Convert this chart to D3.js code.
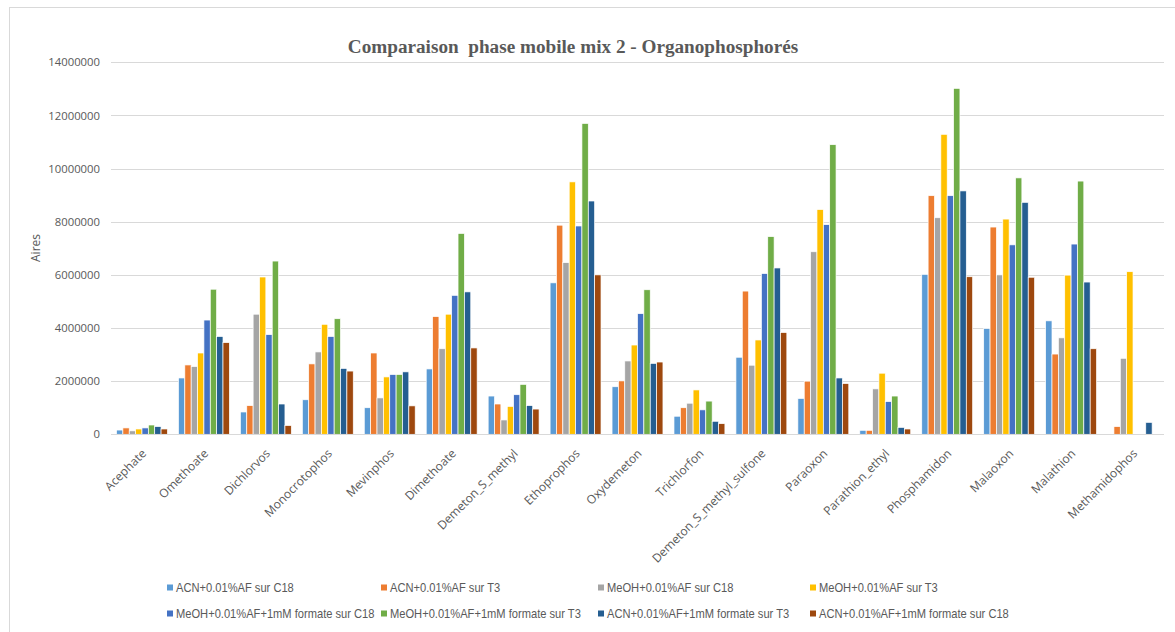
<!DOCTYPE html>
<html>
<head>
<meta charset="utf-8">
<script src="https://cdn.jsdelivr.net/npm/d3@7"></script>
<style>
  html, body { margin: 0; padding: 0; background: #fff; }
  svg { display: block; }
</style>
</head>
<body>
<svg id="chart" width="1175" height="632"></svg>
<script>
const categories = ["Acephate","Omethoate","Dichlorvos","Monocrotophos","Mevinphos","Dimethoate","Demeton_S_methyl","Ethoprophos","Oxydemeton","Trichlorfon","Demeton_S_methyl_sulfone","Paraoxon","Parathion_ethyl","Phosphamidon","Malaoxon","Malathion","Methamidophos"];

const seriesNames = [
  "ACN+0.01%AF sur C18",
  "ACN+0.01%AF sur T3",
  "MeOH+0.01%AF sur C18",
  "MeOH+0.01%AF sur T3",
  "MeOH+0.01%AF+1mM formate sur C18",
  "MeOH+0.01%AF+1mM formate sur T3",
  "ACN+0.01%AF+1mM formate sur T3",
  "ACN+0.01%AF+1mM formate sur C18"
];

const acnC18      = [160000, 2120000, 840000, 1300000, 1000000, 2460000, 1440000, 5700000, 1790000, 680000, 2900000, 1350000, 150000, 6020000, 3980000, 4270000, null];
const acnT3       = [240000, 2610000, 1080000, 2650000, 3060000, 4430000, 1140000, 7870000, 2010000, 1000000, 5390000, 2000000, 150000, 8980000, 7800000, 3020000, 290000];
const meohC18     = [130000, 2550000, 4520000, 3100000, 1370000, 3220000, 540000, 6460000, 2760000, 1170000, 2600000, 6870000, 1710000, 8150000, 6000000, 3630000, 2860000];
const meohT3      = [200000, 3060000, 5920000, 4140000, 2160000, 4520000, 1050000, 9500000, 3360000, 1670000, 3550000, 8460000, 2300000, 11290000, 8100000, 5990000, 6120000];
const meohFmtC18  = [240000, 4300000, 3750000, 3680000, 2250000, 5230000, 1490000, 7840000, 4540000, 920000, 6050000, 7890000, 1230000, 8980000, 7130000, 7160000, null];
const meohFmtT3   = [350000, 5460000, 6520000, 4350000, 2250000, 7560000, 1880000, 11700000, 5440000, 1250000, 7440000, 10900000, 1440000, 13020000, 9650000, 9530000, null];
const acnFmtT3    = [290000, 3680000, 1140000, 2480000, 2350000, 5360000, 1080000, 8780000, 2670000, 490000, 6260000, 2120000, 260000, 9160000, 8730000, 5730000, 450000];
const acnFmtC18   = [200000, 3450000, 330000, 2380000, 1070000, 3250000, 950000, 6000000, 2720000, 400000, 3830000, 1910000, 200000, 5930000, 5910000, 3220000, null];

const seriesValues = [acnC18, acnT3, meohC18, meohT3, meohFmtC18, meohFmtT3, acnFmtT3, acnFmtC18];
const colors = ["#5B9BD5","#ED7D31","#A5A5A5","#FFC000","#4472C4","#70AD47","#255E91","#9E480E"];
const yTicks = [0, 2000000, 4000000, 6000000, 8000000, 10000000, 12000000, 14000000];

const title = "Comparaison  phase mobile mix 2 - Organophosphorés";
const yTitle = "Aires";

const svg = d3.select("#chart");
const plotLeft = 111, plotRight = 1164, plotTop = 62.3, plotBottom = 434.3;

// chart border
svg.append("rect").attr("x", 9.5).attr("y", 7.5).attr("width", 1175).attr("height", 640)
  .attr("fill", "none").attr("stroke", "#D9D9D9").attr("stroke-width", 1);

const x0 = d3.scaleBand().domain(categories).range([plotLeft, plotRight]).paddingInner(0.178).paddingOuter(0.089);
const x1 = d3.scaleBand().domain(d3.range(seriesNames.length)).range([0, x0.bandwidth()]);
const y = d3.scaleLinear().domain([0, 14000000]).range([plotBottom, plotTop]);

// gridlines
svg.append("g").selectAll("line").data(yTicks).join("line")
  .attr("x1", plotLeft).attr("x2", plotRight)
  .attr("y1", d => Math.round(y(d)) + 0.5).attr("y2", d => Math.round(y(d)) + 0.5)
  .attr("stroke", "#D9D9D9").attr("stroke-width", 1);

// y axis labels
const yAxis = d3.axisLeft(y).tickValues(yTicks).tickFormat(d3.format("d")).tickSize(0).tickPadding(0);
const gy = svg.append("g").attr("transform", `translate(${plotLeft - 11},0)`).call(yAxis);
gy.select(".domain").remove();
gy.selectAll("text").attr("fill", "#595959").attr("font-family", "'Open Sans', sans-serif").attr("font-size", 11.3);

// bars
const groups = svg.append("g").selectAll("g").data(categories).join("g")
  .attr("transform", d => `translate(${x0(d)},0)`);
groups.selectAll("rect")
  .data((c, ci) => seriesValues.map((vals, si) => ({si, v: vals[ci]})).filter(d => d.v != null && d.v > 0))
  .join("rect")
  .attr("x", d => x1(d.si))
  .attr("width", x1.bandwidth())
  .attr("y", d => y(d.v))
  .attr("height", d => y(0) - y(d.v))
  .attr("fill", d => colors[d.si])
  .attr("stroke", "#fff").attr("stroke-width", 0.7);

// x labels
const xAxis = d3.axisBottom(x0).tickSize(0).tickPadding(0);
const gx = svg.append("g").attr("transform", `translate(0,${plotBottom})`).call(xAxis);
gx.select(".domain").remove();
gx.selectAll("text")
  .attr("fill", "#595959").attr("font-family", "'Open Sans', sans-serif").attr("font-size", 12)
  .attr("text-anchor", "end").attr("dy", null).attr("y", null)
  .attr("transform", "translate(5,20) rotate(-45)");

// baseline
svg.append("line").attr("x1", plotLeft).attr("x2", plotRight)
  .attr("y1", Math.round(plotBottom) + 0.5).attr("y2", Math.round(plotBottom) + 0.5)
  .attr("stroke", "#D9D9D9").attr("stroke-width", 1);

// title
svg.append("text").attr("x", 573).attr("y", 53).attr("text-anchor", "middle")
  .attr("font-family", "'Liberation Serif', serif").attr("font-weight", "bold")
  .attr("font-size", 19.2).attr("fill", "#595959").style("white-space", "pre").text(title);

// y title
svg.append("text").attr("transform", "translate(40,248) rotate(-90)").attr("text-anchor", "middle")
  .attr("font-family", "'Open Sans', sans-serif").attr("font-size", 12).attr("fill", "#595959").text(yTitle);

// legend
const legX = [167, 381, 598, 810];
const legY = [588, 614];
const leg = svg.append("g").selectAll("g").data(seriesNames).join("g")
  .attr("transform", (d, i) => `translate(${legX[i % 4]},${legY[Math.floor(i / 4)]})`);
leg.append("rect").attr("x", 0).attr("y", -3.5).attr("width", 6).attr("height", 6).attr("fill", (d, i) => colors[i]);
leg.append("text").attr("transform", "translate(9,0) scale(0.87,1)").attr("dy", "0.35em")
  .attr("font-family", "'Liberation Sans', sans-serif").attr("font-size", 12.8)
  .attr("fill", "#595959").text(d => d);
</script>
</body>
</html>
